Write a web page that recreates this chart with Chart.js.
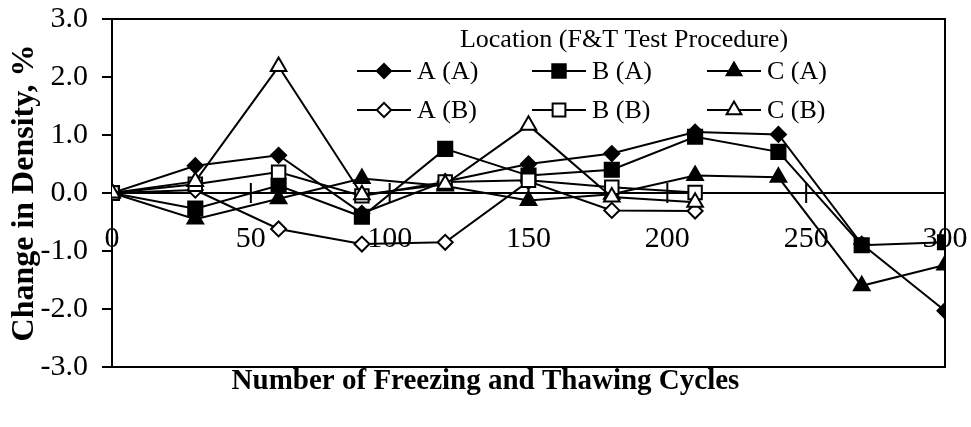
<!DOCTYPE html>
<html>
<head>
<meta charset="utf-8">
<script src="https://cdn.jsdelivr.net/npm/chart.js@4.4.1/dist/chart.umd.min.js"></script>
<style>
	html, body { margin: 0; padding: 0; background: #fff; }
</style>
</head>
<body>
<canvas id="density-chart" width="971" height="427"></canvas>
<script>
// freeze-thaw cycles at which density was measured
const cyclesProcA = [0, 30, 60, 90, 120, 150, 180, 210, 240, 270, 300]
const cyclesProcB = [0, 30, 60, 90, 120, 150, 180, 210]

// change in density, % (location, procedure)
const locAProcA = [0, 0.47, 0.65, -0.35, 0.2, 0.5, 0.68, 1.05, 1.01, -0.88, -2.03]
const locBProcA = [0, -0.27, 0.13, -0.41, 0.76, 0.3, 0.4, 0.97, 0.71, -0.9, -0.85]
const locCProcA = [0, -0.45, -0.1, 0.25, 0.12, -0.13, -0.02, 0.3, 0.27, -1.6, -1.24]
const locAProcB = [0, 0.05, -0.62, -0.88, -0.85, 0.2, -0.3, -0.31]
const locBProcB = [0, 0.15, 0.36, -0.05, 0.19, 0.22, 0.1, 0.01]
const locCProcB = [0, 0.2, 2.18, -0.03, 0.15, 1.17, -0.07, -0.16]

const xTicks = [0, 50, 100, 150, 200, 250, 300]
const serif = "'Liberation Serif', 'Times New Roman', serif"

const toPoints = (xs, ys) => xs.map((x, i) => ({ x: x, y: ys[i] }))

const series = [
	{ label: 'A (A)', xs: cyclesProcA, ys: locAProcA, style: 'rectRot', fill: '#000', r: 7.5 },
	{ label: 'B (A)', xs: cyclesProcA, ys: locBProcA, style: 'rect', fill: '#000', r: 10 },
	{ label: 'C (A)', xs: cyclesProcA, ys: locCProcA, style: 'triangle', fill: '#000', r: 9 },
	{ label: 'A (B)', xs: cyclesProcB, ys: locAProcB, style: 'rectRot', fill: '#fff', r: 7.5 },
	{ label: 'B (B)', xs: cyclesProcB, ys: locBProcB, style: 'rect', fill: '#fff', r: 9.5 },
	{ label: 'C (B)', xs: cyclesProcB, ys: locCProcB, style: 'triangle', fill: '#fff', r: 9 }
]

// box round the plot, cross ticks on the zero line and the legend grid
const framePlugin = {
	id: 'frame',
	beforeDatasetsDraw: (chart) => {
		const { ctx, chartArea } = chart
		const x = chart.scales.x
		const y0 = chart.scales.y.getPixelForValue(0)
		ctx.save()
		ctx.strokeStyle = '#000'
		ctx.lineWidth = 2
		ctx.strokeRect(chartArea.left, chartArea.top, chartArea.right - chartArea.left, chartArea.bottom - chartArea.top)
		xTicks.forEach((t) => {
			const px = x.getPixelForValue(t)
			ctx.beginPath()
			ctx.moveTo(px, y0 - 10)
			ctx.lineTo(px, y0 + 10)
			ctx.stroke()
		})
		ctx.restore()
	},
	afterDraw: (chart) => {
		const { ctx, chartArea } = chart
		const left = chartArea.left
		ctx.save()
		ctx.fillStyle = '#000'
		ctx.font = '26px ' + serif
		ctx.textAlign = 'center'
		ctx.textBaseline = 'middle'
		ctx.fillText('Location (F&T Test Procedure)', left + 512, 40)
		ctx.textAlign = 'left'
		chart.data.datasets.forEach((ds, i) => {
			const col = i % 3
			const row = Math.floor(i / 3)
			const lx = left + 245 + col * 175
			const ly = 71 + row * 39
			ctx.strokeStyle = '#000'
			ctx.lineWidth = 2
			ctx.beginPath()
			ctx.moveTo(lx, ly)
			ctx.lineTo(lx + 54, ly)
			ctx.stroke()
			ctx.fillStyle = ds.pointBackgroundColor
			Chart.helpers.drawPoint(ctx, { pointStyle: ds.pointStyle, radius: ds.pointRadius * 0.95, borderWidth: 2 }, lx + 27, ly)
			ctx.fillStyle = '#000'
			ctx.fillText(ds.label, lx + 60, ly + 1)
		})
		ctx.restore()
	}
}

const config = {
	type: 'line',
	data: {
		// later series are drawn over earlier ones
		datasets: series.map((s, i) => ({
			label: s.label,
			data: toPoints(s.xs, s.ys),
			order: series.length - i,
			borderColor: '#000',
			borderWidth: 2,
			pointStyle: s.style,
			pointRadius: s.r,
			pointBackgroundColor: s.fill,
			pointBorderColor: '#000',
			pointBorderWidth: 2,
			tension: 0,
			fill: false
		}))
	},
	options: {
		responsive: false,
		animation: false,
		layout: { padding: { left: 0, right: 0, top: 19, bottom: 31 } },
		plugins: {
			legend: { display: false },
			tooltip: { enabled: false },
			title: {
				display: true,
				position: 'bottom',
				text: 'Number of Freezing and Thawing Cycles',
				color: '#000',
				font: { family: serif, size: 29, weight: 'bold', lineHeight: 1 },
				padding: { top: 0, bottom: 0 }
			}
		},
		scales: {
			x: {
				type: 'linear',
				position: { y: 0 },
				min: 0,
				max: 300,
				afterBuildTicks: (scale) => { scale.ticks = xTicks.map((v) => ({ value: v })) },
				afterFit: (scale) => {
					scale.paddingLeft = 0
					scale.paddingRight = 26
				},
				ticks: { color: '#000', font: { family: serif, size: 30 }, padding: 28, maxRotation: 0 },
				grid: { display: true, drawOnChartArea: false, drawTicks: false },
				border: { display: true, color: '#000', width: 2 }
			},
			y: {
				min: -3,
				max: 3,
				afterFit: (scale) => {
					scale.width = 112
					scale.paddingTop = 0
					scale.paddingBottom = 0
				},
				ticks: {
					stepSize: 1,
					color: '#000',
					font: { family: serif, size: 30 },
					padding: 14,
					callback: (v) => v.toFixed(1)
				},
				grid: { drawOnChartArea: false, drawTicks: true, tickLength: 10, color: '#000', lineWidth: 2 },
				border: { display: true, color: '#000', width: 2 },
				title: {
					display: true,
					text: 'Change in Density, %',
					color: '#000',
					font: { family: serif, size: 32, weight: 'bold' },
					padding: { top: 6, bottom: 0 }
				}
			}
		}
	},
	plugins: [framePlugin]
}

const ctx = document.querySelector('#density-chart').getContext('2d')
const densityChart = new Chart(ctx, config)
</script>
</body>
</html>
